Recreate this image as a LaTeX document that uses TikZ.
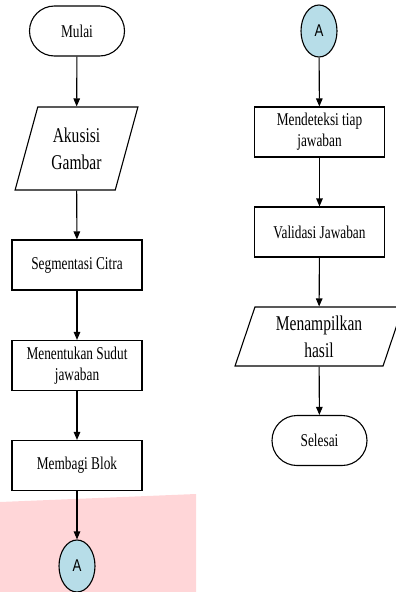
\documentclass[tikz,border=0pt]{standalone}
\usepackage{fontspec}
\setmainfont{Liberation Serif}[FakeStretch=0.74]
\newfontfamily\connfont{Liberation Sans}[FakeStretch=0.78]
\usepackage{xcolor}
\usetikzlibrary{shapes.geometric, arrows.meta}
\definecolor{conncol}{HTML}{B7DDE8}
\definecolor{pinkbg}{HTML}{FFD6D8}

\begin{document}
\begin{tikzpicture}[x=1pt, y=-1pt, >={Triangle[length=8pt, width=6.5pt]}, line width=1.1pt,
  terminal/.style={draw, rectangle, rounded corners=25pt, minimum width=95pt, minimum height=50pt, font=\fontsize{18}{21}\selectfont},
  process/.style={draw, rectangle, minimum width=130pt, minimum height=50pt, align=center, inner sep=2pt, font=\fontsize{18}{21}\selectfont},
  io/.style={draw, trapezium, trapezium stretches=true, align=center, inner sep=0pt, font=\fontsize{21}{27}\selectfont},
  connector/.style={draw, ellipse, fill=conncol, minimum width=36pt, minimum height=52pt, inner sep=0pt, font=\connfont\fontsize{17}{20}\selectfont}]
  % Column positions (in px of the page)
  \def\colL{77}
  \def\colR{319.5}

  \useasboundingbox (0,0) rectangle (396,592);

  % Pink background patch behind the off-page connector
  \fill[pinkbg] (0,502) -- (196,494) -- (196,592) -- (0,592) -- cycle;

  % Left column
  \node[terminal] (mulai) at (\colL,31) {Mulai};
  \node[io, trapezium left angle=70.7, trapezium right angle=109.3, minimum width=123pt, minimum height=83pt] (akusisi) at (76.5,148.5) {Akusisi\\Gambar};
  \node[process] (segmen) at (\colL,265) {Segmentasi Citra};
  \node[process] (sudut) at (\colL,365.5) {Menentukan Sudut\\jawaban};
  \node[process] (blok) at (\colL,465.5) {Membagi Blok};
  \node[connector] (conA) at (\colL,566) {A};

  % Right column
  \node[connector] (conB) at (319,31) {A};
  \node[process] (deteksi) at (\colR,132) {Mendeteksi tiap\\jawaban};
  \node[process] (validasi) at (\colR,232) {Validasi Jawaban};
  \node[io, trapezium left angle=72.2, trapezium right angle=107.8, minimum width=168pt, minimum height=59pt] (tampil) at (319,336.5) {Menampilkan\\hasil};
  \node[terminal] (selesai) at (\colR,440.5) {Selesai};

  % Flow
  \draw[->] (mulai) -- (akusisi);
  \draw[->] (akusisi) -- (segmen);
  \draw[->] (segmen) -- (sudut);
  \draw[->] (sudut) -- (blok);
  \draw[->] (blok) -- (conA);
  \draw[->] (conB) -- (deteksi);
  \draw[->] (deteksi) -- (validasi);
  \draw[->] (validasi) -- (tampil);
  \draw[->] (tampil) -- (selesai);
\end{tikzpicture}
\end{document}
